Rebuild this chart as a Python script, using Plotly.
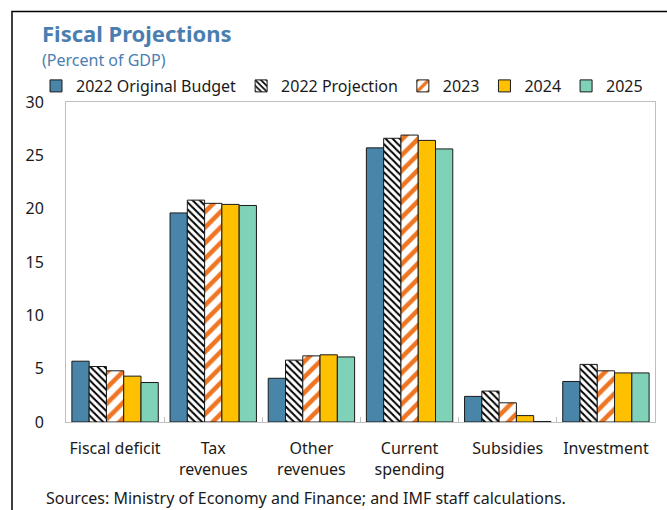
import plotly.graph_objects as go

categories = ["Fiscal deficit", "Tax<br>revenues", "Other<br>revenues", "Current<br>spending", "Subsidies", "Investment"]
series_names = ["2022 Original Budget", "2022 Projection", "2023", "2024", "2025"]
budget_2022 = [5.7, 19.6, 4.1, 25.7, 2.4, 3.8]
proj_2022 = [5.2, 20.8, 5.8, 26.6, 2.9, 5.4]
vals_2023 = [4.8, 20.5, 6.2, 26.9, 1.8, 4.8]
vals_2024 = [4.3, 20.4, 6.3, 26.4, 0.6, 4.6]
vals_2025 = [3.7, 20.3, 6.1, 25.6, 0.05, 4.6]
y_ticks = [0, 5, 10, 15, 20, 25, 30]

W, H = 667, 510
L, R, T, B = 66, 12, 102, 88
PW, PH = W - L - R, H - T - B

def px(x):
    return (x - L) / PW

def py(y):
    return 1 - (y - T) / PH

FONT = "Noto Sans"
TITLE_COLOR = "#4A7EB0"
line = dict(color="#1a1a1a", width=1)

fig = go.Figure()
fig.add_bar(name=series_names[0], x=categories, y=budget_2022,
            marker=dict(color="#4885A8", line=line))
fig.add_bar(name=series_names[1], x=categories, y=proj_2022,
            marker=dict(color="white", line=line,
                        pattern=dict(shape="\\", fgcolor="black", bgcolor="white",
                                     fgopacity=1, size=5, solidity=0.4)))
fig.add_bar(name=series_names[2], x=categories, y=vals_2023,
            marker=dict(color="white", line=line,
                        pattern=dict(shape="/", fgcolor="#EE7623", bgcolor="white",
                                     fgopacity=1, size=11, solidity=0.42)))
fig.add_bar(name=series_names[3], x=categories, y=vals_2024,
            marker=dict(color="#FFC000", line=line))
fig.add_bar(name=series_names[4], x=categories, y=vals_2025,
            marker=dict(color="#7FD1B8", line=line))

fig.update_layout(
    width=W, height=H,
    margin=dict(l=L, r=R, t=T, b=B, autoexpand=False),
    paper_bgcolor="white", plot_bgcolor="white",
    font=dict(family=FONT, size=16, color="#1a1a1a"),
    barmode="group", bargap=0.12, bargroupgap=0,
    showlegend=True,
    legend=dict(orientation="h", x=px(36), xanchor="left", y=py(86), yanchor="middle",
                font=dict(size=16), itemwidth=30, tracegroupgap=0,
                bgcolor="rgba(0,0,0,0)"),
    xaxis=dict(showline=True, linecolor="#BFBFBF", linewidth=1, mirror=True,
               ticks="inside", tickson="boundaries", ticklen=5, tickcolor="#BFBFBF",
               tickangle=0, automargin=False,
               ticklabelstandoff=12, tickfont=dict(size=16), fixedrange=True),
    yaxis=dict(range=[0, 30], tickvals=y_ticks, showgrid=False, zeroline=False,
               showline=True, linecolor="#BFBFBF", linewidth=1, mirror=True,
               ticks="", ticklabelstandoff=18, automargin=False,
               tickfont=dict(size=16), fixedrange=True),
)

fig.add_annotation(text="<b>Fiscal Projections</b>", xref="paper", yref="paper",
                   x=px(40), y=py(33), xanchor="left", yanchor="middle", showarrow=False,
                   font=dict(size=22, color=TITLE_COLOR, family=FONT))
fig.add_annotation(text="(Percent of GDP)", xref="paper", yref="paper",
                   x=px(40), y=py(60), xanchor="left", yanchor="middle", showarrow=False,
                   font=dict(size=16, color=TITLE_COLOR, family=FONT))
fig.add_annotation(text="Sources: Ministry of Economy and Finance; and IMF staff calculations.",
                   xref="paper", yref="paper", x=px(44), y=py(498), xanchor="left", yanchor="middle",
                   showarrow=False, font=dict(size=16, color="#1a1a1a", family=FONT))

# outer frame (top and left edges visible in the crop)
fig.add_shape(type="path", xref="paper", yref="paper",
              path=f"M {px(12)} {py(520)} L {px(12)} {py(11.5)} L {px(680)} {py(11.5)}",
              line=dict(color="black", width=1.5), layer="above")

fig.write_html("out.html", config={"displayModeBar": False},
               post_script="document.body.style.margin='0px';document.body.style.overflow='hidden';")
